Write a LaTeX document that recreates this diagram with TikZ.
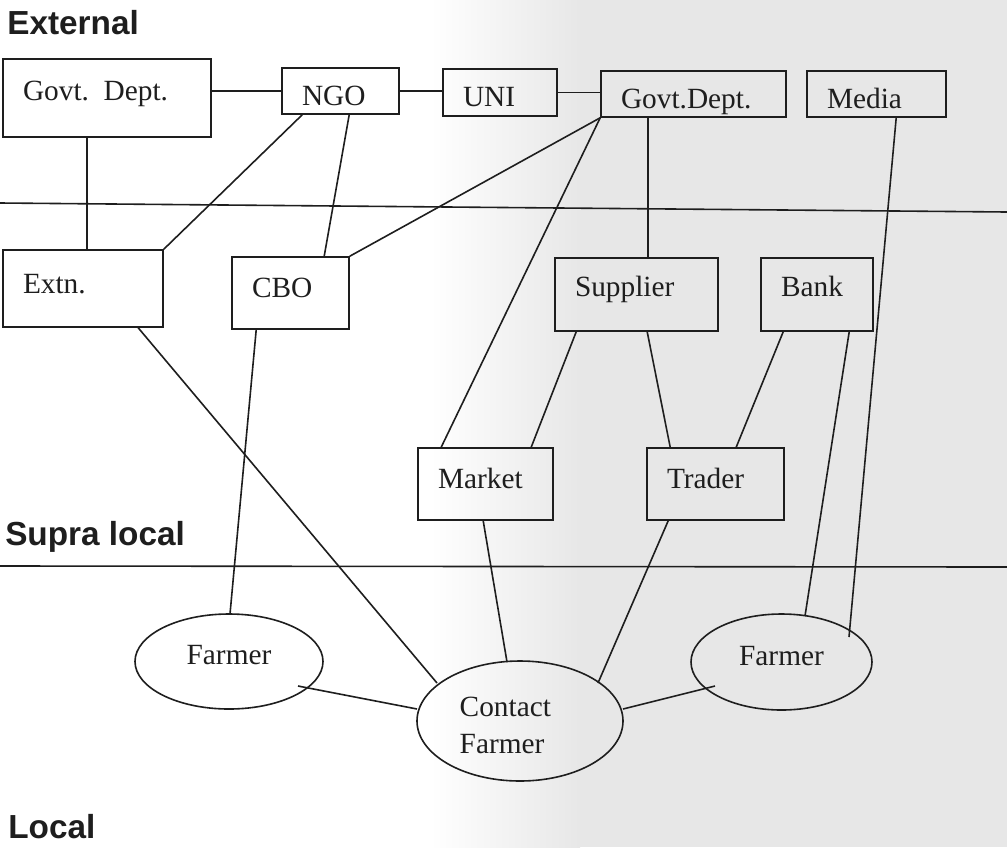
\documentclass[tikz,border=0pt]{standalone}
\usepackage{fontspec}
\setmainfont{Liberation Serif}
\newfontfamily\lblfont{Liberation Sans}
\usetikzlibrary{shapes.geometric,calc}
\definecolor{ink}{HTML}{1E1E1E}
\definecolor{paper}{HTML}{E7E7E7}
\begin{document}
\begin{tikzpicture}[x=0.75pt,y=-0.75pt,
  box/.style={draw=ink, text=ink, rectangle, line width=1.2pt, inner xsep=15pt, inner ysep=0pt, align=left, font=\fontsize{22}{26}\selectfont},
  lowtext/.style={text height=21.5pt, text depth=0.5pt},
  midtext/.style={text height=14.5pt, text depth=7.5pt},
  hightext/.style={text height=12.5pt, text depth=9.5pt},
  oval/.style={draw=ink, text=ink, ellipse, line width=1.2pt, inner sep=0pt, font=\fontsize{22}{27.75}\selectfont, text height=13.5pt, text depth=8.5pt},
  link/.style={draw=ink, line width=1.2pt},
  level/.style={text=ink, font=\lblfont\bfseries\fontsize{25}{30}\selectfont, anchor=base west, inner sep=0pt},
  sepline/.style={draw=ink, line width=1.2pt}]
\useasboundingbox (0,0) rectangle (1007,847);
% background
\fill[white] (0,0) rectangle (1007,847);
\shade[left color=white, right color=paper] (430,0) rectangle (580,847);
\fill[paper] (579,0) rectangle (1007,847);

% level labels and separators
\node[level] (lext) at (7,34) {External};
\node[level] (lsup) at (5,545) {Supra local};
\node[level] (lloc) at (8,838) {Local};
\draw[sepline] (0,203) -- (1007,212);
\draw[sepline] (0,566) -- (1007,567);

% boxes
\node[box, hightext, text width=126pt, minimum height=58.5pt] (gd1) at (107,98) {Govt. Dept.};
\node[box, lowtext, text width=57.75pt, minimum height=34.5pt] (ngo) at (340.5,91) {NGO};
\node[box, lowtext, text width=55.5pt, minimum height=35.25pt] (uni) at (500,92.5) {UNI};
\node[box, lowtext, text width=108.75pt, minimum height=34.5pt] (gd2) at (693.5,94) {Govt.Dept.};
\node[box, lowtext, text width=74.25pt, minimum height=34.5pt] (media) at (876.5,94) {Media};
\node[box, midtext, text width=90pt, minimum height=57.75pt] (extn) at (83,288.5) {Extn.};
\node[box, midtext, text width=57.75pt, minimum height=54pt] (cbo) at (290.5,293) {CBO};
\node[box, hightext, text width=92.25pt, minimum height=54.75pt] (supplier) at (636.5,294.5) {Supplier};
\node[box, hightext, text width=54pt, minimum height=54.75pt] (bank) at (817,294.5) {Bank};
\node[box, midtext, text width=71.25pt, minimum height=54pt] (market) at (485.5,484) {Market};
\node[box, midtext, text width=72.75pt, minimum height=54pt] (trader) at (715.5,484) {Trader};

% ellipses
\node[oval, minimum width=141pt, minimum height=71.25pt] (farmerL) at (229,661.5) {Farmer};
\node[oval, minimum width=154.5pt, minimum height=90pt,
  label={[text=ink, font=\fontsize{22}{27.75}\selectfont, align=left, xshift=-11pt, yshift=-3pt]center:Contact\\Farmer}] (contact) at (520,721) {};
\node[oval, minimum width=135.75pt, minimum height=72pt] (farmerR) at (781.5,662) {Farmer};

% connectors
\draw[link] (ngo.west -| gd1.east) -- (ngo.west);
\draw[link] (ngo.east) -- (ngo.east -| uni.west);
\draw[link] (uni.east) -- (uni.east -| gd2.west);
\draw[link] ($(gd1.south west)+(85,0)$) -- ($(extn.north west)+(85,0)$);
\draw[link] ($(ngo.south west)+(21,0)$) -- (extn.north east);
\draw[link] ($(ngo.south west)+(68,0)$) -- ($(cbo.north west)+(93,0)$);
\draw[link] (gd2.south west) -- (cbo.north east);
\draw[link] (gd2.south west) -- ($(market.north west)+(24,0)$);
\draw[link] ($(gd2.south west)+(48,0)$) -- ($(supplier.north west)+(94,0)$);
\draw[link] ($(media.south west)+(90,0)$) -- ($(farmerR.center)+(67.5,-25)$);
\draw[link] ($(bank.south west)+(89,0)$) -- ($(farmerR.center)+(23.5,-46)$);
\draw[link] ($(bank.south west)+(23,0)$) -- ($(trader.north west)+(90,0)$);
\draw[link] ($(supplier.south west)+(22,0)$) -- ($(market.north west)+(114,0)$);
\draw[link] ($(supplier.south west)+(93,0)$) -- ($(trader.north west)+(24,0)$);
\draw[link] ($(trader.south west)+(22,0)$) -- ($(contact.center)+(78,-38)$);
\draw[link] ($(market.south west)+(66,0)$) -- ($(contact.center)+(-13,-59)$);
\draw[link] ($(extn.south west)+(136,0)$) -- ($(contact.center)+(-83,-38)$);
\draw[link] ($(cbo.south west)+(25,0)$) -- ($(farmerL.center)+(1,-47.5)$);
\draw[link] ($(farmerL.center)+(69,24.5)$) -- ($(contact.center)+(-103,-12)$);
\draw[link] ($(contact.center)+(103,-12)$) -- ($(farmerR.center)+(-66.5,24)$);
\end{tikzpicture}
\end{document}
